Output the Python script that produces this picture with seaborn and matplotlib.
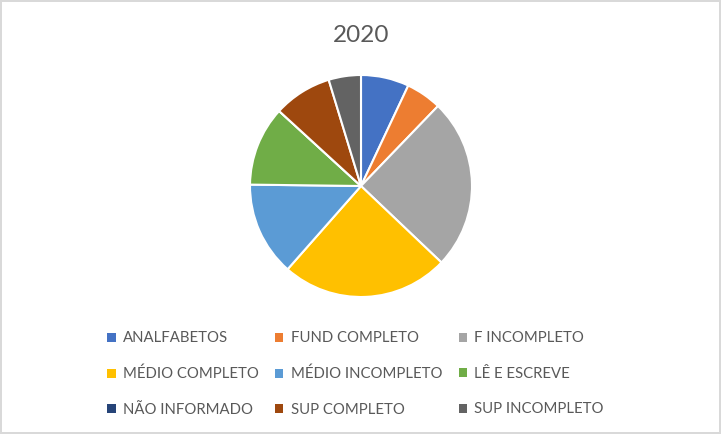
import numpy as np
import matplotlib
matplotlib.use("Agg")
import matplotlib.pyplot as plt
import matplotlib.patches as mpatches
import seaborn as sns

# Data (share of total, %)
categories = ["ANALFABETOS", "FUND COMPLETO", "F INCOMPLETO",
              "MÉDIO COMPLETO", "MÉDIO INCOMPLETO", "LÊ E ESCREVE",
              "NÃO INFORMADO", "SUP COMPLETO", "SUP INCOMPLETO"]
values = [7.0, 5.2, 24.9, 24.4, 13.7, 11.6, 0.0, 8.5, 4.7]
title = "2020"

# Excel-style office palette
colors = sns.color_palette(["#4472C4", "#ED7D31", "#A5A5A5", "#FFC000", "#5B9BD5",
                            "#70AD47", "#264478", "#9E480E", "#636363"])

sns.set_style("white")
plt.rcParams["font.family"] = ["Lato", "DejaVu Sans"]
text_color = "#595959"

fig = plt.figure(figsize=(7.21, 4.34), dpi=100)
fig.patch.set_edgecolor("#D9D9D9")
fig.patch.set_linewidth(1.5)

# pie axes: centre ~ (361, 186) px, radius ~ 111 px
W, H = 721, 434
cx, cy, r = 361, 186, 111
ax = fig.add_axes([(cx - r) / W, (H - cy - r) / H, 2 * r / W, 2 * r / H])
wedges, _ = ax.pie(values, colors=colors, startangle=90, counterclock=False,
                   wedgeprops=dict(edgecolor="white", linewidth=1.5))
ax.set_aspect("equal")
ax.set_xlim(-1.0, 1.0)
ax.set_ylim(-1.0, 1.0)
ax.axis("off")

fig.text(cx / W, 1 - 36 / H, title, ha="center", va="center",
         fontsize=17.5, color=text_color)

# legend filled row by row (matplotlib fills column-first)
handles = [mpatches.Patch(facecolor=c, edgecolor="none") for c in colors]
order = [0, 3, 6, 1, 4, 7, 2, 5, 8]
leg = fig.legend([handles[i] for i in order], [categories[i] for i in order],
                 ncol=3, loc="upper left",
                 bbox_to_anchor=(94 / W, 1 - 318 / H), frameon=False,
                 fontsize=10.7, handlelength=0.55, handleheight=0.55,
                 handletextpad=0.5, columnspacing=1.1, labelspacing=1.45)
for t in leg.get_texts():
    t.set_color(text_color)

fig.savefig("out.png", dpi=100)
